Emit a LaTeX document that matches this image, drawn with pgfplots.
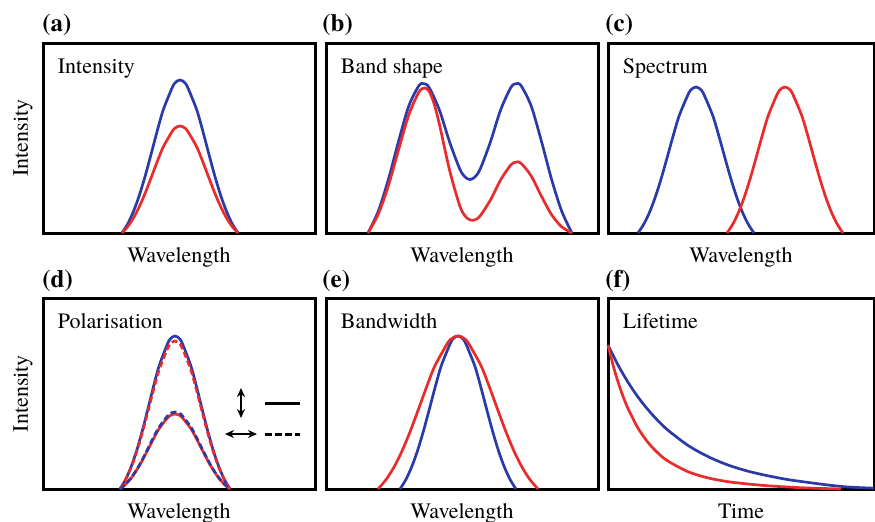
\documentclass[border=0pt]{standalone}
\usepackage{fontspec}
\IfFontExistsTF{TeX Gyre Termes}{\setmainfont{TeX Gyre Termes}}{\setmainfont{Liberation Serif}}
\usepackage{pgfplots}
\pgfplotsset{compat=1.18}
\usetikzlibrary{arrows.meta}

\definecolor{cblue}{HTML}{2A3AA8}
\definecolor{cred}{HTML}{EA2B2B}

% one unit of data = one pixel of the reference, 1px = 0.5pt
\pgfplotsset{
  panel/.style={
    scale only axis, width=136pt, height=95pt,
    xmin=0, xmax=272, ymin=0, ymax=190,
    xtick=\empty, ytick=\empty,
    axis line style={line width=1.5pt, black},
    clip=false,
    every axis plot/.append style={line width=1.35pt, smooth, no markers},
  },
  row2/.style={height=95.5pt, ymax=191},
  narrow/.style={width=133pt, xmax=266},
}
\tikzset{
  tag/.style={anchor=base west, inner sep=0pt, font=\fontsize{12.5}{14}\selectfont\bfseries},
  ttl/.style={anchor=base west, inner sep=0pt, xshift=7.25pt, yshift=-15.25pt, font=\fontsize{11}{13}\selectfont},
  xl/.style={anchor=base, inner sep=0pt, yshift=-14.5pt, font=\fontsize{11}{13}\selectfont},
  yl/.style={xshift=-10pt, rotate=90, anchor=center, inner sep=0pt, font=\fontsize{11}{13}\selectfont},
  dbl/.style={{Stealth[length=4.5pt,width=4pt]}-{Stealth[length=4.5pt,width=4pt]}, line width=1pt},
}

\begin{document}
\begin{tikzpicture}
\useasboundingbox (0pt,0pt) rectangle (437.5pt,-260.5pt);

% (a) Intensity
\begin{axis}[panel, at={(21.5pt,-116.5pt)}]
\addplot[cblue] coordinates {(79,0)(84.8,9.3)(90.6,21.9)(96.4,37.9)(102.2,57.1)(108,78.5)(113.8,100.5)(119.6,121.2)(125.4,136.3)(131.2,149.2)(137,153)(142.8,149.2)(148.6,136.3)(154.4,121.2)(160.2,100.5)(166,78.5)(171.8,57.1)(177.6,37.9)(183.4,21.9)(189.2,9.3)(195,0)};
\addplot[cred] coordinates {(79,0)(84.8,6.5)(90.6,15.3)(96.4,26.5)(102.2,39.9)(108,54.9)(113.8,70.3)(119.6,84.7)(125.4,95.3)(131.2,104.3)(137,107)(142.8,104.3)(148.6,95.3)(154.4,84.7)(160.2,70.3)(166,54.9)(171.8,39.9)(177.6,26.5)(183.4,15.3)(189.2,6.5)(195,0)};
\node[tag, xshift=-0.5pt, yshift=6pt] at (rel axis cs:0,1) {(a)};
\node[ttl] at (rel axis cs:0,1) {Intensity};
\node[xl] at (rel axis cs:0.5,0) {Wavelength};
\node[yl] at (rel axis cs:0,0.5) {Intensity};
\end{axis}

% (b) Band shape
\begin{axis}[panel, at={(163pt,-116.5pt)}]
\addplot[cblue] coordinates {(42,0)(52.2,21.6)(62.4,53.6)(72.6,91.9)(82.8,127.0)(93,147.4)(98,149.3)(103.2,145.4)(113.4,123.0)(123.6,91.0)(133.8,64.0)(139,56.1)(144,53.5)(149,56.1)(154.2,64.0)(164.4,91.0)(174.6,123.0)(184.8,145.4)(190,149.3)(195,147.4)(205.2,127.0)(215.4,91.9)(225.6,53.6)(235.8,21.6)(246,0)};
\addplot[cred] coordinates {(42,0)(52.2,18.7)(62.4,47.3)(72.6,83.3)(82.8,118.2)(93,141.0)(99,145)(103.2,141.5)(108,129.6)(113.4,108.8)(123.6,62.7)(133.8,27.1)(139,17.1)(144,13.1)(149,13.2)(154.2,17.2)(164.4,32.9)(174.6,53.0)(184.8,68.1)(190,70.9)(195,69.8)(205.2,57.0)(215.4,36.9)(225.6,18.3)(235.8,6.1)(246,0)};
\node[tag, xshift=-2pt, yshift=6pt] at (rel axis cs:0,1) {(b)};
\node[ttl] at (rel axis cs:0,1) {Band shape};
\node[xl] at (rel axis cs:0.5,0) {Wavelength};
\end{axis}

% (c) Spectrum
\begin{axis}[panel, narrow, at={(304pt,-116.5pt)}]
\addplot[cblue] coordinates {(30,0)(35.8,8.9)(41.6,20.9)(47.4,36.2)(53.2,54.5)(59,74.9)(64.8,95.9)(70.6,115.6)(76.4,130.1)(82.2,142.4)(88,146)(93.8,142.4)(99.6,130.1)(105.4,115.6)(111.2,95.9)(117,74.9)(122.8,54.5)(128.6,36.2)(134.4,20.9)(140.2,8.9)(146,0)};
\addplot[cred] coordinates {(119,0)(124.8,8.9)(130.6,20.9)(136.4,36.2)(142.2,54.5)(148,74.9)(153.8,95.9)(159.6,115.6)(165.4,130.1)(171.2,142.4)(177,146)(182.8,142.4)(188.6,130.1)(194.4,115.6)(200.2,95.9)(206,74.9)(211.8,54.5)(217.6,36.2)(223.4,20.9)(229.2,8.9)(235,0)};
\node[tag, xshift=-1.5pt, yshift=6pt] at (rel axis cs:0,1) {(c)};
\node[ttl] at (rel axis cs:0,1) {Spectrum};
\node[xl] at (rel axis cs:0.5,0) {Wavelength};
\end{axis}

% (d) Polarisation
\begin{axis}[panel, row2, at={(21.5pt,-244.5pt)}]
\addplot[cblue] coordinates {(77,0)(82.5,9.3)(88,21.9)(93.5,37.9)(99,57.1)(104.5,78.5)(110,100.5)(115.5,121.2)(121,136.3)(126.5,149.2)(132,153)(137.5,149.2)(143,136.3)(148.5,121.2)(154,100.5)(159.5,78.5)(165,57.1)(170.5,37.9)(176,21.9)(181.5,9.3)(187,0)};
\addplot[cred, dash pattern=on 3pt off 1.6pt] coordinates {(77,0)(82.5,9.0)(88,21.2)(93.5,36.7)(99,55.2)(104.5,75.9)(110,97.2)(115.5,117.2)(121,131.9)(126.5,144.3)(132,148)(137.5,144.3)(143,131.9)(148.5,117.2)(154,97.2)(159.5,75.9)(165,55.2)(170.5,36.7)(176,21.2)(181.5,9.0)(187,0)};
\addplot[cred] coordinates {(77,0)(82.5,4.6)(88,10.7)(93.5,18.6)(99,28.0)(104.5,38.5)(110,49.3)(115.5,59.4)(121,66.8)(126.5,73.1)(132,75)(137.5,73.1)(143,66.8)(148.5,59.4)(154,49.3)(159.5,38.5)(165,28.0)(170.5,18.6)(176,10.7)(181.5,4.6)(187,0)};
\addplot[cblue, dash pattern=on 3pt off 1.6pt] coordinates {(77,0)(82.5,4.7)(88,11.0)(93.5,19.1)(99,28.7)(104.5,39.5)(110,50.6)(115.5,61.0)(121,68.6)(126.5,75.1)(132,77)(137.5,75.1)(143,68.6)(148.5,61.0)(154,50.6)(159.5,39.5)(165,28.7)(170.5,19.1)(176,11.0)(181.5,4.7)(187,0)};
\draw[dbl] (axis cs:198,101) -- (axis cs:198,71);
\draw[line width=1.5pt] (axis cs:222,86) -- (axis cs:257,86);
\draw[dbl] (axis cs:182,55) -- (axis cs:214,55);
\draw[line width=1.5pt, dash pattern=on 3.3pt off 1.7pt] (axis cs:222,55) -- (axis cs:257,55);
\node[tag, xshift=-0.5pt, yshift=5.5pt] at (rel axis cs:0,1) {(d)};
\node[ttl] at (rel axis cs:0,1) {Polarisation};
\node[xl] at (rel axis cs:0.5,0) {Wavelength};
\node[yl] at (rel axis cs:0,0.5) {Intensity};
\end{axis}

% (e) Bandwidth
\begin{axis}[panel, row2, at={(163pt,-244.5pt)}]
\addplot[cblue] coordinates {(74,0)(79.8,9.3)(85.6,21.9)(91.4,37.9)(97.2,57.1)(103,78.5)(108.8,100.5)(114.6,121.2)(120.4,136.3)(126.2,149.2)(132,153)(137.8,149.2)(143.6,136.3)(149.4,121.2)(155.2,100.5)(161,78.5)(166.8,57.1)(172.6,37.9)(178.4,21.9)(184.2,9.3)(190,0)};
\addplot[cred] coordinates {(52,0)(60,9.3)(68,21.9)(76,37.9)(84,57.1)(92,78.5)(100,100.5)(108,121.2)(116,136.3)(124,149.2)(132,153)(140,149.2)(148,136.3)(156,121.2)(164,100.5)(172,78.5)(180,57.1)(188,37.9)(196,21.9)(204,9.3)(212,0)};
\node[tag, xshift=-2pt, yshift=5.5pt] at (rel axis cs:0,1) {(e)};
\node[ttl] at (rel axis cs:0,1) {Bandwidth};
\node[xl] at (rel axis cs:0.5,0) {Wavelength};
\end{axis}

% (f) Lifetime
\begin{axis}[panel, row2, narrow, at={(304pt,-244.5pt)}]
\addplot[cblue] coordinates {(0,144)(10,124.0)(20,106.8)(30,92.0)(40,79.3)(50,68.3)(60,58.8)(80,43.6)(100,32.4)(120,24.0)(140,17.8)(160,13.2)(180,9.4)(200,6.6)(220,4.0)(240,2.0)(266,0.8)};
\addplot[cred] coordinates {(0,144)(5,124.1)(10,107.2)(15,92.8)(20,80.5)(30,60.9)(40,46.6)(50,35.9)(60,27.9)(80,17.3)(100,11.1)(120,7.3)(140,5.0)(160,3.2)(180,2.0)(200,1.0)(233,0)};
\node[tag, xshift=-1.5pt, yshift=5.5pt] at (rel axis cs:0,1) {(f)};
\node[ttl] at (rel axis cs:0,1) {Lifetime};
\node[xl] at (rel axis cs:0.5,0) {Time};
\end{axis}
\end{tikzpicture}
\end{document}
